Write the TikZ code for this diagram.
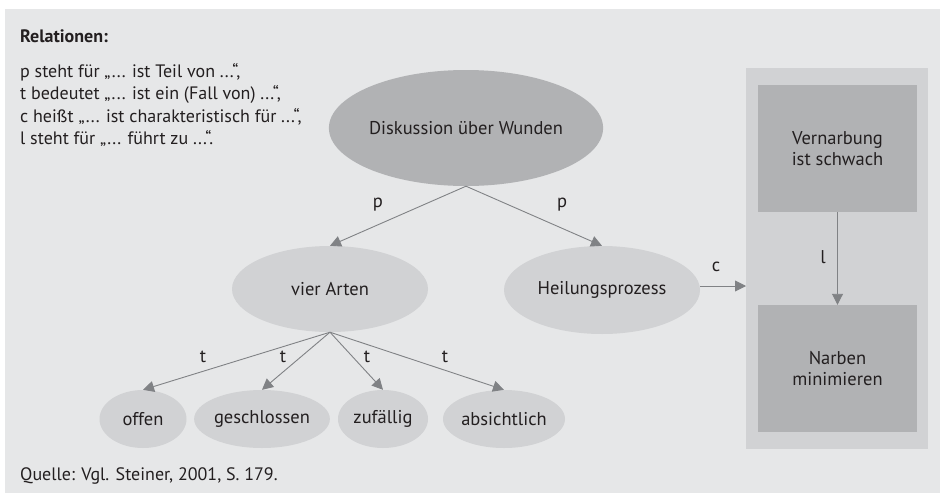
\documentclass[tikz,border=0pt]{standalone}
\usepackage{fontspec}
\setmainfont{PT Sans}
\usetikzlibrary{arrows.meta,shapes.geometric}
\definecolor{bg}{HTML}{E6E7E8}
\definecolor{panel}{HTML}{D1D2D4}
\definecolor{dark}{HTML}{B1B2B4}
\definecolor{lite}{HTML}{D1D2D4}
\definecolor{arr}{HTML}{808285}
\definecolor{txt}{HTML}{231F20}
\tikzset{
  every node/.style={text=txt,font=\fontsize{18.5}{21}\selectfont},
  ell/.style={ellipse,fill=lite,draw=none,inner sep=0pt},
  rbox/.style={rectangle,fill=dark,draw=none,align=center,minimum width=159pt,minimum height=127pt,inner sep=0pt},
  conn/.style={draw=arr,line width=0.9pt,-{Triangle[length=11pt,width=11pt]}},
  lbl/.style={inner sep=0pt},
  legline/.style={anchor=base west,inner sep=0pt,font=\fontsize{18}{21}\selectfont}
}
\begin{document}
\begin{tikzpicture}[x=1pt,y=-1pt]
\useasboundingbox (0,0) rectangle (940,493);
\fill[bg] (5,9) rectangle (940,493);
\fill[panel] (746,68) rectangle (928,449);
% legend
\node[legline,font=\fontsize{18}{21}\selectfont\bfseries] (title) at (20,42) {Relationen:};
\node[legline] (leg1) at (20,77) {p steht für „... ist Teil von ...“,};
\node[legline] (leg2) at (20,99.5) {t bedeutet „... ist ein (Fall von) ...“,};
\node[legline] (leg3) at (20,122) {c heißt „... ist charakteristisch für ...“,};
\node[legline] (leg4) at (20,144) {l steht für „... führt zu ...“.};
\node[legline] (src) at (20,480) {Quelle: Vgl. Steiner, 2001, S. 179.};
% nodes
\node[ell,fill=dark,minimum width=242pt,minimum height=116pt] (disk) at (466,128) {Diskussion über Wunden};
\node[ell,minimum width=196pt,minimum height=86pt] (vier) at (330,289) {vier Arten};
\node[ell,minimum width=196pt,minimum height=88pt] (heil) at (602,290) {Heilungsprozess};
\node[ell,minimum width=87pt,minimum height=58pt] (offen) at (143,419) {offen};
\node[ell,minimum width=121pt,minimum height=58pt] (geschl) at (262,419) {geschlossen};
\node[ell,minimum width=90pt,minimum height=58pt] (zuf) at (383,419) {zufällig};
\node[ell,minimum width=122pt,minimum height=58pt] (absi) at (504,419) {absichtlich};
\node[rbox] (vern) at (837.5,148.5) {Vernarbung\\ist schwach};
\node[rbox] (narb) at (837.5,368.5) {Narben\\minimieren};
\coordinate (panelL) at (746,286);
% connectors
\draw[conn] (disk.south) -- (vier.north);
\draw[conn] (disk.south) -- (heil.north);
\draw[conn] (vier.south) -- (offen.north);
\draw[conn] (vier.south) -- (geschl.north);
\draw[conn] (vier.south) -- (zuf.north);
\draw[conn] (vier.south) -- (absi.north);
\draw[conn] (heil.east |- panelL) -- (panelL);
\draw[conn] (vern.south) -- (narb.north);
% labels
\node[lbl] (lp1) at (378,205) {p};
\node[lbl] (lp2) at (562,205) {p};
\node[lbl] (lt1) at (203,357) {t};
\node[lbl] (lt2) at (283,357) {t};
\node[lbl] (lt3) at (367,357) {t};
\node[lbl] (lt4) at (445,357) {t};
\node[lbl] (lc) at (716,267) {c};
\node[lbl] (ll) at (823,257) {l};
\end{tikzpicture}
\end{document}
